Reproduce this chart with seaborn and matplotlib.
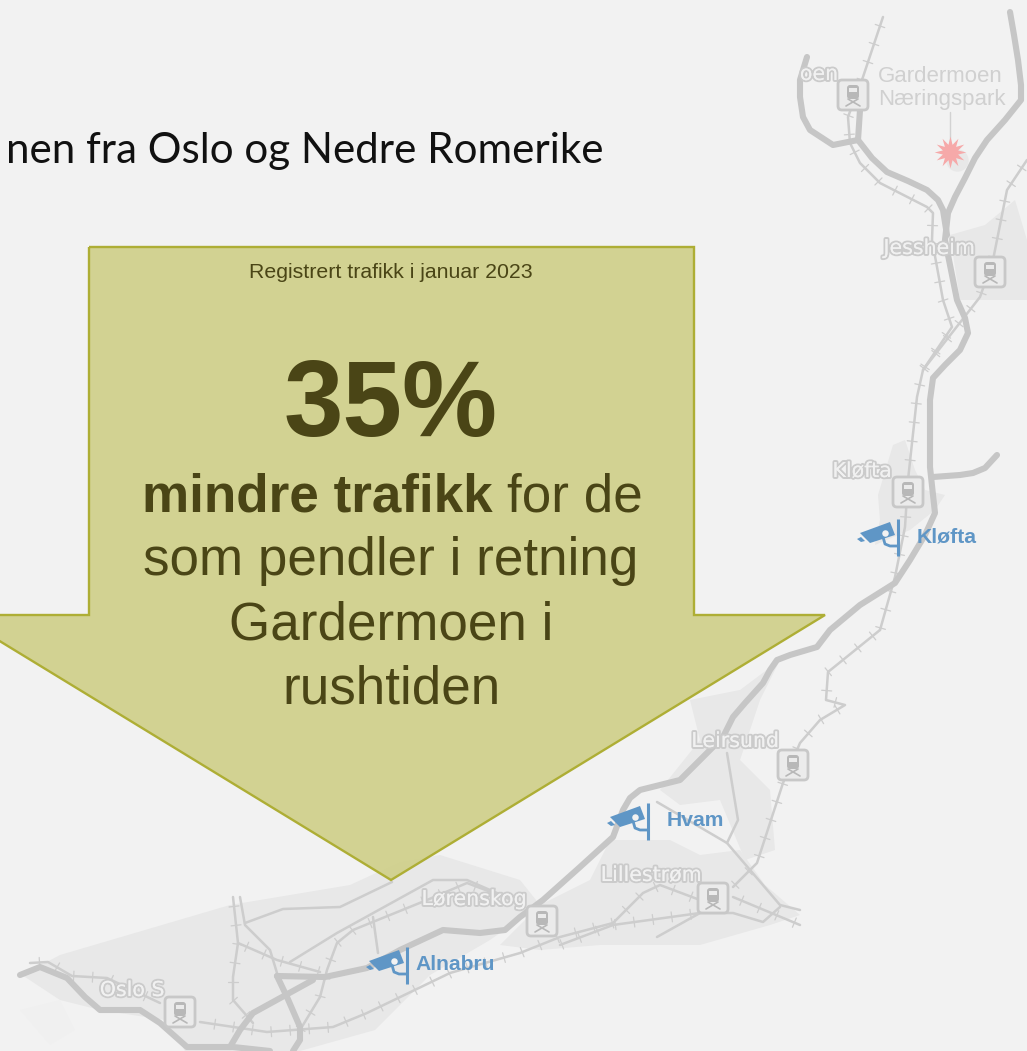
import numpy as np
import matplotlib
matplotlib.use("Agg")
import matplotlib.pyplot as plt
import matplotlib.patheffects as pe
from matplotlib.patches import Polygon, FancyBboxPatch, Rectangle
import seaborn as sns

# map is traced in image pixels, y pointing down
BG = "#f2f2f2"
ROAD = "#c6c6c6"
RAIL = "#cdcdcd"
URBAN = "#e8e8e8"
BLUE = "#5f96c6"
DARK = "#4a4516"

title_text = "nen fra Oslo og Nedre Romerike"
small_text = "Registrert trafikk i januar 2023"
big_text = "35%"
bold_text = "mindre trafikk"
rest_lines = ["som pendler i retning", "Gardermoen i", "rushtiden"]

arrow_outline = [(89, 247), (694, 247), (694, 615), (825, 615), (391, 880),
                 (-43, 615), (89, 615)]

urban_areas = [
    [(22, 975), (60, 955), (230, 905), (350, 885), (400, 862), (440, 855), (520, 880),
     (540, 905), (490, 940), (430, 975), (375, 1030), (300, 1051), (185, 1051), (165, 1020),
     (100, 1010), (60, 1000)],
    [(610, 840), (670, 840), (700, 855), (740, 850), (765, 885), (800, 915), (770, 925),
     (700, 945), (600, 945), (540, 950), (500, 945), (540, 905), (590, 880)],
    [(660, 790), (700, 740), (690, 700), (740, 690), (780, 660), (760, 700), (740, 760),
     (770, 790), (775, 850), (745, 860), (720, 800), (680, 805)],
    [(893, 445), (905, 440), (915, 470), (925, 490), (945, 495), (935, 510), (910, 530),
     (875, 545), (880, 520), (878, 495)],
    [(950, 235), (985, 225), (1015, 200), (1027, 240), (1027, 300), (960, 300)],
]
light_areas = [
    [(20, 1010), (60, 1000), (75, 1030), (50, 1045)],
]

thick_roads = [
    [(1010, 12), (1014, 35), (1018, 60), (1021, 85), (1021, 100), (1005, 120), (987, 140),
     (975, 158), (965, 178), (955, 197), (948, 213), (945, 240), (951, 270), (957, 300),
     (965, 318), (968, 333), (960, 350), (945, 365), (933, 378), (930, 400), (930, 467),
     (933, 495), (935, 513), (925, 535), (910, 560), (895, 583), (860, 605), (830, 630),
     (817, 647), (790, 655), (777, 660), (770, 670), (763, 683), (745, 703), (733, 717),
     (723, 737), (703, 757), (680, 780), (660, 785), (640, 790), (630, 798), (623, 810),
     (613, 837), (580, 867), (543, 900), (520, 917), (505, 930), (480, 933), (443, 930),
     (400, 950), (367, 968), (325, 977), (277, 976)],
    [(807, 57), (800, 80), (800, 97), (803, 117), (810, 130), (833, 145), (858, 140)],
    [(860, 110), (858, 140), (872, 158), (887, 172), (908, 181), (927, 190), (938, 200),
     (943, 210), (947, 235)],
    [(933, 477), (960, 475), (973, 473), (985, 468), (997, 455)],
    [(313, 980), (253, 1013), (240, 1030), (230, 1047)],
    [(277, 976), (287, 997), (300, 1027), (300, 1040), (293, 1051)],
    [(20, 975), (40, 967), (67, 978), (85, 997), (100, 1010), (140, 1010), (160, 1023),
     (187, 1047), (233, 1047), (270, 1051)],
]

railways = [
    [(883, 17), (863, 77), (848, 117), (850, 143), (860, 163), (880, 183), (927, 207),
     (933, 213), (932, 240), (937, 267), (943, 300), (952, 327), (923, 370), (917, 397),
     (908, 480), (905, 527), (895, 577), (880, 630)],
    [(1027, 160), (1007, 190), (993, 260), (980, 297), (923, 370)],
    [(880, 630), (828, 672), (826, 700), (845, 705), (820, 720), (800, 743), (783, 783),
     (757, 863), (733, 887)],
    [(700, 900), (660, 885), (643, 893), (613, 923), (560, 937), (520, 953), (450, 973),
     (367, 1013), (333, 1027), (267, 1032), (200, 1022)],
    [(520, 903), (467, 883), (427, 900), (353, 930), (337, 943), (327, 970), (320, 997),
     (300, 1030)],
    [(233, 897), (238, 943), (233, 977), (233, 1000), (253, 1023)],
    [(238, 943), (277, 960), (320, 972)],
    [(30, 963), (48, 962), (72, 976), (107, 978), (160, 1003)],
    [(700, 913), (613, 925), (560, 945)],
    [(733, 897), (800, 925)],
]
thin_roads = [
    [(240, 897), (245, 925), (270, 950), (277, 973)],
    [(245, 923), (283, 909), (340, 907), (392, 882)],
    [(290, 962), (337, 933), (433, 880), (467, 880), (520, 903)],
    [(373, 917), (378, 953)],
    [(657, 802), (727, 843), (780, 905), (800, 910)],
    [(727, 753), (738, 820), (727, 843)],
    [(700, 913), (733, 913), (763, 922), (780, 907)],
    [(657, 937), (700, 913)],
]

stations = [(853, 95), (990, 272), (908, 492), (793, 765), (713, 898), (542, 921), (180, 1012)]

map_labels = ["oen", "Jessheim", "Kløfta", "Leirsund", "Lillestrøm", "Lørenskog", "Oslo S"]
map_label_x = [819, 929, 862, 735, 651, 474, 132]
map_label_y = [74, 248, 471, 741, 875, 899, 990]

cameras = ["Kløfta", "Hvam", "Alnabru"]
camera_x = [898, 648, 407]
camera_y = [519, 803, 947]
camera_text_x = [917, 667, 415]

sns.set_theme(style="white")
plt.rcParams["font.family"] = ["Liberation Sans", "DejaVu Sans"]
plt.rcParams["lines.solid_joinstyle"] = "round"
plt.rcParams["lines.solid_capstyle"] = "round"

fig, ax = plt.subplots(figsize=(10.27, 10.51), dpi=100)
fig.subplots_adjust(0, 0, 1, 1)
fig.patch.set_facecolor(BG)
ax.set_facecolor(BG)
ax.set_xlim(0, 1027)
ax.set_ylim(1051, 0)
ax.axis("off")


def draw_line(points, color, width, z=2):
    xs = [p[0] for p in points]
    ys = [p[1] for p in points]
    sns.lineplot(x=xs, y=ys, sort=False, estimator=None, color=color, linewidth=width,
                 ax=ax, zorder=z, legend=False)


def rail_ticks(points, step=19, half=5):
    pts = np.array(points, dtype=float)
    left = step / 2
    for a, b in zip(pts[:-1], pts[1:]):
        seg = np.hypot(*(b - a))
        d = (b - a) / seg
        normal = np.array([-d[1], d[0]])
        pos = left
        while pos < seg:
            c = a + d * pos
            ax.plot(*zip(c - normal * half, c + normal * half), color=RAIL, lw=0.9, zorder=2)
            pos += step
        left = pos - seg


for area in urban_areas:
    ax.add_patch(Polygon(area, closed=True, fc=URBAN, ec="none", zorder=1))
for area in light_areas:
    ax.add_patch(Polygon(area, closed=True, fc="#f0f0f0", ec="none", zorder=1.2))

for road in thin_roads:
    draw_line(road, RAIL, 1.8)
for rail in railways:
    draw_line(rail, RAIL, 1.8)
    rail_ticks(rail)
for road in thick_roads:
    draw_line(road, ROAD, 4.4, z=2.5)

# stations
for sx, sy in stations:
    ax.add_patch(FancyBboxPatch((sx - 13, sy - 13), 26, 26, boxstyle="round,pad=2,rounding_size=4",
                                fc="#ebebeb", ec="#c8c8c8", lw=2, zorder=3))
    ax.add_patch(FancyBboxPatch((sx - 6, sy - 10), 12, 14, boxstyle="round,pad=0,rounding_size=3",
                                fc="#b8b8b8", ec="none", zorder=3.1))
    ax.add_patch(Rectangle((sx - 4, sy - 7), 8, 4, fc="#ebebeb", ec="none", zorder=3.2))
    ax.plot([sx - 7, sx + 5], [sy + 11, sy + 4], color="#b8b8b8", lw=1.2, zorder=3.1)
    ax.plot([sx + 7, sx - 5], [sy + 11, sy + 4], color="#b8b8b8", lw=1.2, zorder=3.1)

halo = [pe.withStroke(linewidth=2.8, foreground="#cbcbcb"), pe.Normal()]
for label, lx, ly in zip(map_labels, map_label_x, map_label_y):
    ax.text(lx, ly, label, ha="center", va="center", fontsize=14.8, color="#f1f1f1",
            family=["DejaVu Sans"], path_effects=halo, zorder=4)

ax.text(878, 77, "Gardermoen", ha="left", va="center", fontsize=16, color="#d0d0d0", zorder=4)
ax.text(878, 100, "Næringspark", ha="left", va="center", fontsize=16, color="#d0d0d0", zorder=4)
ax.plot([950, 950], [112, 142], color="#d2d2d2", lw=1, zorder=4)
ax.scatter([957], [160], s=260, marker="o", color="#dcdcdc", alpha=0.45, linewidths=0, zorder=4)
ax.scatter([950], [152], s=520, marker=(12, 1, 0), color="#f6a9a9", linewidths=0, zorder=4.5)

# cameras
for name, bx, by, tx in zip(cameras, camera_x, camera_y, camera_text_x):
    ax.plot([bx, bx], [by, by + 37], color=BLUE, lw=2.2, solid_capstyle="butt", zorder=5)
    ax.add_patch(Polygon([(bx - 38, by + 14), (bx - 8, by + 3), (bx - 3, by + 16), (bx - 28, by + 24)],
                         closed=True, fc=BLUE, ec="none", zorder=5))
    ax.add_patch(Polygon([(bx - 41, by + 20), (bx - 37, by + 18), (bx - 33, by + 22), (bx - 37, by + 23)],
                         closed=True, fc=BLUE, ec="none", zorder=5))
    ax.plot([bx - 15, bx - 13, bx - 8, bx], [by + 18, by + 25, by + 27, by + 27],
            color=BLUE, lw=2, zorder=5)
    ax.scatter([bx - 13], [by + 14], s=22, color="#f2f2f2", linewidths=0, zorder=5.2)
    ax.text(tx, by + 18, name, ha="left", va="center", fontsize=15.2, fontweight="bold",
            color=BLUE, zorder=5)

# arrow
ax.add_patch(Polygon(arrow_outline, closed=True, fc="#cfcf88", ec="none", alpha=0.9, zorder=6))
ax.add_patch(Polygon(arrow_outline, closed=True, fc="none", ec="#aeae35", lw=1.7, zorder=6.1))

ax.text(391, 272, small_text, ha="center", va="center", fontsize=15.3, color=DARK, zorder=7)
ax.text(391, 408, big_text, ha="center", va="center", fontsize=77, fontweight="bold", color=DARK, zorder=7)
ax.text(493, 497, bold_text, ha="right", va="center", fontsize=38.2, fontweight="bold", color=DARK, zorder=7)
ax.text(507, 497, "for de", ha="left", va="center", fontsize=38.2, color=DARK, zorder=7)
for line, ly in zip(rest_lines, [561, 626, 690]):
    ax.text(391, ly, line, ha="center", va="center", fontsize=38.2, color=DARK, zorder=7)

ax.text(603, 151, title_text, ha="right", va="center", fontsize=30.3, color="#111111",
        family=["Lato", "DejaVu Sans"], zorder=8)

fig.savefig("out.png", dpi=100, facecolor=BG)
